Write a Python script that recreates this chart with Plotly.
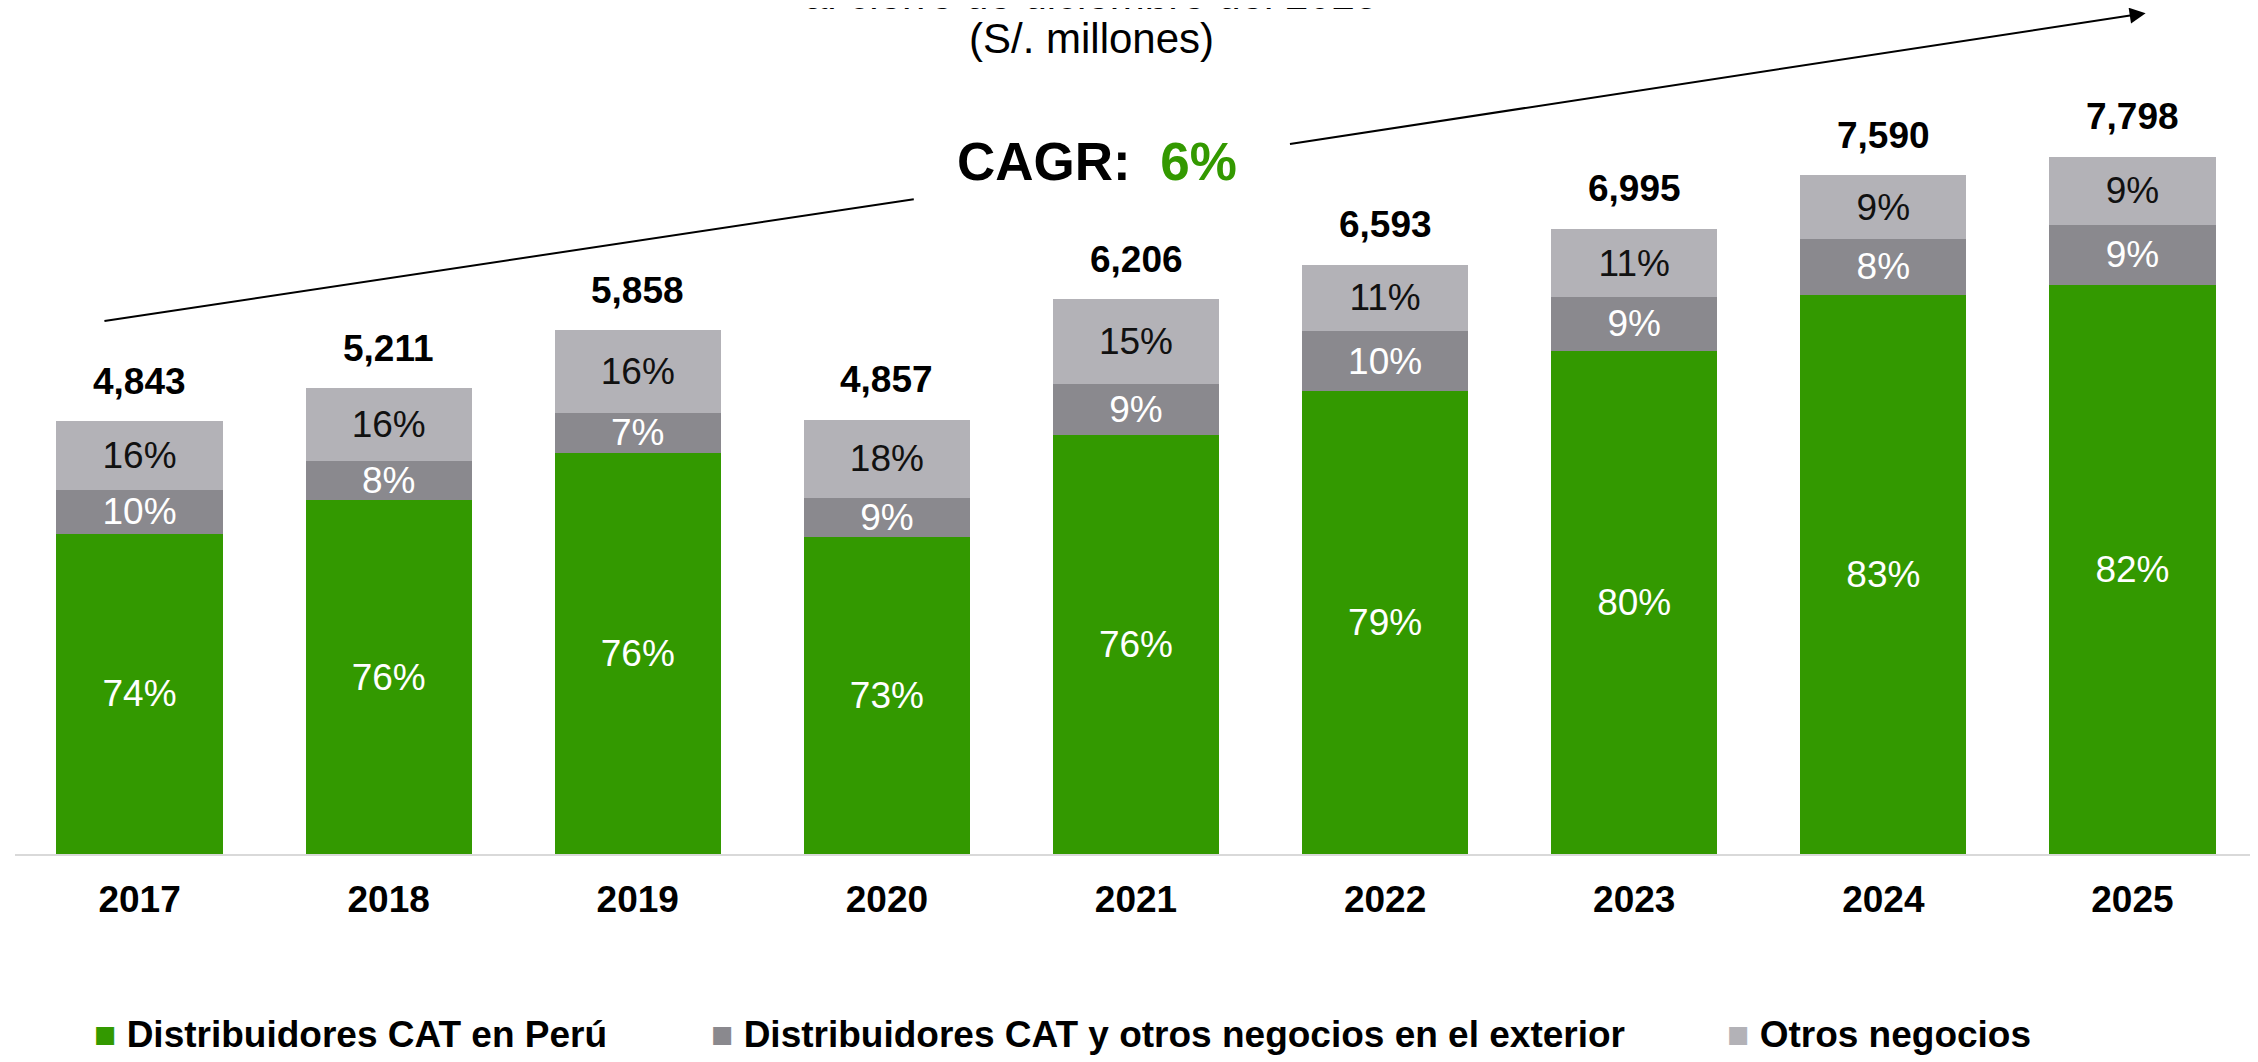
import plotly.graph_objects as go

# ---- data ----
years = ["2017", "2018", "2019", "2020", "2021", "2022", "2023", "2024", "2025"]
totals = [4843, 5211, 5858, 4857, 6206, 6593, 6995, 7590, 7798]
series_names = [
    "Distribuidores CAT en Perú",
    "Distribuidores CAT y otros negocios en el exterior",
    "Otros negocios",
]
peru_values = [3584, 3955, 4487, 3550, 4692, 5176, 5631, 6254, 6363]
exterior_values = [484, 438, 451, 437, 565, 672, 595, 630, 678]
otros_values = [775, 818, 920, 870, 949, 745, 769, 706, 757]
peru_pct = [74, 76, 76, 73, 76, 79, 80, 83, 82]
exterior_pct = [10, 8, 7, 9, 9, 10, 9, 8, 9]
otros_pct = [16, 16, 16, 18, 15, 11, 11, 9, 9]
cagr_label = "6%"
title_lines = ["al cierre de diciembre del 2025", "(S/. millones)"]

# ---- styles ----
FONT = "Liberation Sans, Arial, sans-serif"
colors = ["#339900", "#8A898E", "#B3B2B7"]
text_colors = ["#FFFFFF", "#FFFFFF", "#111111"]

fig = go.Figure()
for name, vals, pcts, col, tcol in zip(
    series_names,
    [peru_values, exterior_values, otros_values],
    [peru_pct, exterior_pct, otros_pct],
    colors,
    text_colors,
):
    fig.add_trace(
        go.Bar(
            x=years,
            y=vals,
            name=name,
            marker=dict(color=col, line=dict(width=0)),
            text=[f"{p}%" for p in pcts],
            textposition="inside",
            insidetextanchor="middle",
            textangle=0,
            constraintext="none",
            textfont=dict(family=FONT, size=37, color=tcol),
            width=0.667,
            showlegend=False,
        )
    )

# total labels above bars
for i, tot in enumerate(totals):
    fig.add_annotation(
        x=i, y=tot, xref="x", yref="y",
        text=f"<b>{tot:,}</b>",
        showarrow=False, xanchor="center", yanchor="middle", yshift=40,
        font=dict(family=FONT, size=37, color="#000000"),
    )

# CAGR line (two parts) with arrow
fig.add_shape(
    type="line", xref="x", yref="y",
    x0=-0.141, y0=5961, x1=3.108, y1=7325,
    line=dict(color="#000000", width=2),
)
fig.add_annotation(
    x=8.053, y=9405, ax=4.612, ay=7940,
    xref="x", yref="y", axref="x", ayref="y",
    text="", showarrow=True, arrowhead=2, arrowsize=1.6, arrowwidth=2,
    arrowcolor="#000000",
)
fig.add_annotation(
    x=3.842, y=7750, xref="x", yref="y",
    text=f"<b>CAGR:  <span style='color:#339900'>{cagr_label}</span></b>",
    showarrow=False, xanchor="center", yanchor="middle",
    font=dict(family=FONT, size=53, color="#000000"),
)

# title (first line partly cut off at top, as in reference)
for line, ty in zip(title_lines, [0.9855, 0.9338]):
    fig.add_annotation(
        x=0.480, y=ty, xref="paper", yref="paper",
        text=line,
        showarrow=False, xanchor="center", yanchor="bottom",
        font=dict(family=FONT, size=42, color="#000000"),
    )

# legend built from series names/colours
legend_x = [0.0343, 0.3096, 0.7627]
for name, col, lx in zip(series_names, colors, legend_x):
    fig.add_annotation(
        x=lx, y=-0.2128, xref="paper", yref="paper",
        text=f"<span style='color:{col}'>■</span> <b>{name}</b>",
        showarrow=False, xanchor="left", yanchor="middle",
        font=dict(family=FONT, size=37, color="#000000"),
    )

# page body has an 8px margin: size/offset the figure to compensate
fig.update_layout(
    barmode="stack",
    width=2250, height=1054,
    margin=dict(l=7, r=1, t=0, b=208),
    paper_bgcolor="white", plot_bgcolor="white",
    showlegend=False,
    xaxis=dict(
        type="category", range=[-0.5, 8.5],
        showline=True, linecolor="#D9D9D9", linewidth=2,
        showgrid=False, ticks="", ticklabelstandoff=12,
        tickfont=dict(family=FONT, size=37, color="#000000", weight="bold"),
        fixedrange=True,
    ),
    yaxis=dict(
        range=[0, 9463], visible=False, showgrid=False, zeroline=False,
        fixedrange=True,
    ),
)

fig.write_html("out.html")
